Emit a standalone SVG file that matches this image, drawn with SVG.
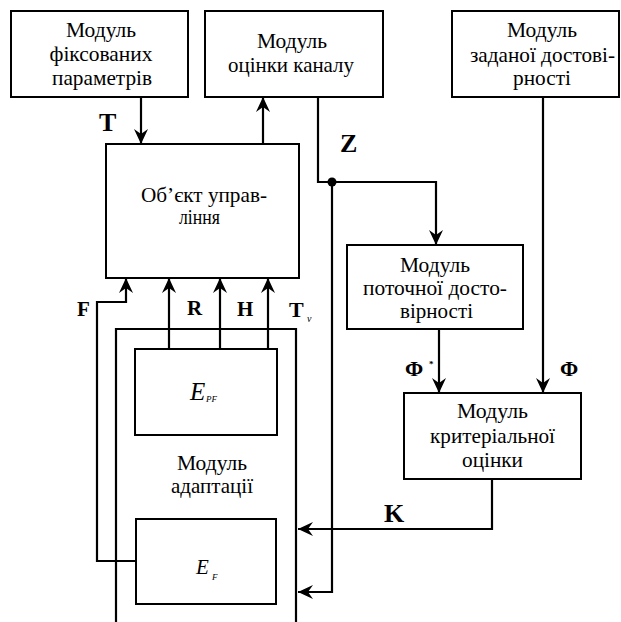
<svg xmlns="http://www.w3.org/2000/svg" width="621" height="622" viewBox="0 0 621 622">
  <style>
    .box { fill: #fff; stroke: #000; stroke-width: 2; }
    .ln { fill: none; stroke: #000; stroke-width: 2.2; }
    .t { font-family: 'Liberation Serif', 'Times New Roman', serif; font-size: 21px; fill: #000; text-anchor: middle; }
    .lb { font-family: 'Liberation Serif', 'Times New Roman', serif; font-weight: bold; fill: #000; }
    .it { font-family: 'Liberation Serif', 'Times New Roman', serif; font-style: italic; fill: #000; }
  </style>
  <defs>
    <marker id="ah" viewBox="-15 -7 15 14" refX="0" refY="0" markerWidth="15" markerHeight="14" markerUnits="userSpaceOnUse" orient="auto">
      <path d="M0,0 L-15,-7 L-10,0 L-15,7 Z" fill="#000"/>
    </marker>
  </defs>

  <rect width="621" height="622" fill="#fff"/>

  <!-- adaptation module outline (open at the bottom) -->
  <g id="adaptation">
    <path class="ln" d="M116,622 V329 H296 V622"/>
    <text class="t" x="212" y="470" textLength="70" lengthAdjust="spacingAndGlyphs">Модуль</text>
    <text class="t" x="212" y="493" textLength="82" lengthAdjust="spacingAndGlyphs">адаптації</text>
  </g>

  <g id="fixed-params">
    <rect class="box" x="11" y="11" width="177" height="86"/>
    <text class="t" x="101" y="37" textLength="70" lengthAdjust="spacingAndGlyphs">Модуль</text>
    <text class="t" x="101" y="61" textLength="103" lengthAdjust="spacingAndGlyphs">фіксованих</text>
    <text class="t" x="102" y="85" textLength="100" lengthAdjust="spacingAndGlyphs">параметрів</text>
  </g>

  <g id="channel-estimation">
    <rect class="box" x="205" y="11" width="178" height="86"/>
    <text class="t" x="292" y="48" textLength="70" lengthAdjust="spacingAndGlyphs">Модуль</text>
    <text class="t" x="291" y="72" textLength="126" lengthAdjust="spacingAndGlyphs">оцінки каналу</text>
  </g>

  <g id="target-reliability">
    <rect class="box" x="452" y="11" width="167" height="86"/>
    <text class="t" x="542" y="37" textLength="70" lengthAdjust="spacingAndGlyphs">Модуль</text>
    <text class="t" x="542.5" y="62" textLength="145" lengthAdjust="spacingAndGlyphs">заданої достові-</text>
    <text class="t" x="542" y="85" textLength="58" lengthAdjust="spacingAndGlyphs">рності</text>
  </g>

  <g id="control-object">
    <rect class="box" x="106" y="144" width="193" height="134"/>
    <text class="t" x="204" y="202" textLength="126" lengthAdjust="spacingAndGlyphs">Об’єкт управ-</text>
    <text class="t" x="199.5" y="224" textLength="41" lengthAdjust="spacingAndGlyphs">ління</text>
  </g>

  <g id="current-reliability">
    <rect class="box" x="347" y="245" width="176" height="84"/>
    <text class="t" x="435" y="272" textLength="70" lengthAdjust="spacingAndGlyphs">Модуль</text>
    <text class="t" x="435" y="295" textLength="144" lengthAdjust="spacingAndGlyphs">поточної досто-</text>
    <text class="t" x="436.5" y="318" textLength="73" lengthAdjust="spacingAndGlyphs">вірності</text>
  </g>

  <g id="criterion">
    <rect class="box" x="404" y="393" width="177" height="86"/>
    <text class="t" x="492.5" y="418" textLength="71" lengthAdjust="spacingAndGlyphs">Модуль</text>
    <text class="t" x="492.5" y="443" textLength="125" lengthAdjust="spacingAndGlyphs">критеріальної</text>
    <text class="t" x="492.5" y="467" textLength="61" lengthAdjust="spacingAndGlyphs">оцінки</text>
  </g>

  <g id="e-pf">
    <rect class="box" x="135" y="349" width="142" height="86"/>
    <text class="it" x="190" y="400" font-size="25">E</text>
    <text class="it" x="206" y="402" font-size="9">PF</text>
  </g>

  <g id="e-f">
    <rect class="box" x="136" y="519" width="140" height="85"/>
    <text class="it" x="196" y="574" font-size="21">E</text>
    <text class="it" x="212" y="580" font-size="9">F</text>
  </g>

  <g id="connectors">
    <!-- T: fixed parameters -> control object -->
    <path class="ln" d="M141,97 V144" marker-end="url(#ah)"/>
    <!-- control object -> channel estimation -->
    <path class="ln" d="M263,144 V97" marker-end="url(#ah)"/>
    <!-- Z: channel estimation -> current reliability -->
    <path class="ln" d="M318,97 V182 H436 V245" marker-end="url(#ah)"/>
    <circle cx="332" cy="182" r="4.5" fill="#000"/>
    <!-- Z branch down into adaptation module -->
    <path class="ln" d="M332,182 V592 H298" marker-end="url(#ah)"/>
    <!-- target reliability -> criterion -->
    <path class="ln" d="M543,97 V393" marker-end="url(#ah)"/>
    <!-- current reliability -> criterion -->
    <path class="ln" d="M439,329 V393" marker-end="url(#ah)"/>
    <!-- K: criterion -> adaptation -->
    <path class="ln" d="M492,479 V529 H298" marker-end="url(#ah)"/>
    <!-- R, H, Tv: E_PF -> control object -->
    <path class="ln" d="M169,349 V278" marker-end="url(#ah)"/>
    <path class="ln" d="M220,349 V278" marker-end="url(#ah)"/>
    <path class="ln" d="M268,349 V278" marker-end="url(#ah)"/>
    <!-- F: E_F -> control object -->
    <path class="ln" d="M136,561 H97 V302 H126 V278" marker-end="url(#ah)"/>
  </g>

  <g id="labels">
    <text class="lb" x="99" y="131" font-size="26">T</text>
    <text class="lb" x="340" y="152" font-size="26">Z</text>
    <text class="lb" x="77" y="316" font-size="21">F</text>
    <text class="lb" x="187" y="315" font-size="21">R</text>
    <text class="lb" x="237" y="316" font-size="21">H</text>
    <text class="lb" x="289" y="317" font-size="22">T</text>
    <text class="it" x="307" y="322" font-size="10">v</text>
    <text class="lb" x="405" y="376" font-size="22">Φ</text>
    <text class="lb" x="429" y="367" font-size="9">*</text>
    <text class="lb" x="560" y="376" font-size="22">Φ</text>
    <text class="lb" x="384" y="522" font-size="26">K</text>
  </g>
</svg>
